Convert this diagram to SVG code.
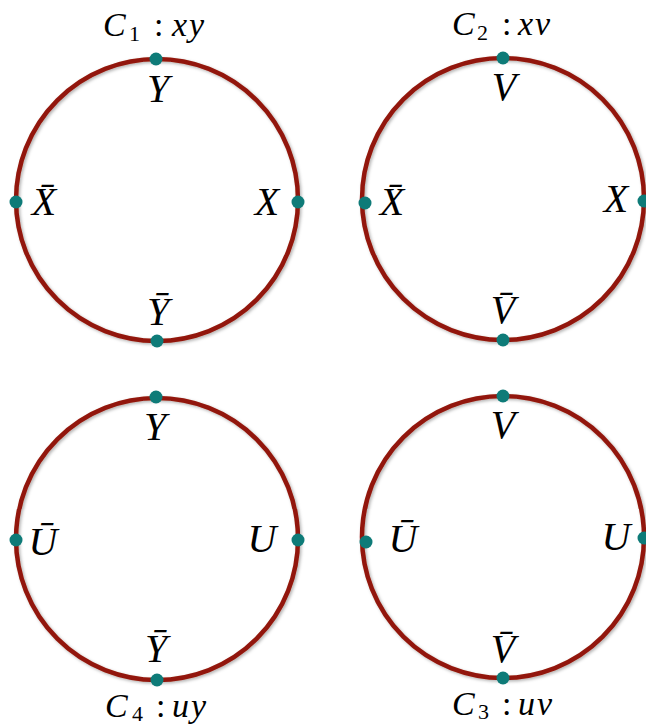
<svg xmlns="http://www.w3.org/2000/svg" width="646" height="725" viewBox="0 0 646 725">
<style>
.ring{fill:none;stroke:#921709;stroke-width:4.5}
.dot{fill:#0e7b78}
text{font-family:"Liberation Serif",serif}
.lbl{font-style:italic;font-size:40px;fill:#000;text-anchor:middle}
.ttl{font-size:34px;fill:#000}
.it{font-style:italic}
.var{font-style:italic;letter-spacing:2px}
.sub{font-size:22px}
</style>
<defs>
<filter id="sh" x="-10%" y="-10%" width="120%" height="120%">
<feDropShadow dx="1.5" dy="1.5" stdDeviation="1.5" flood-color="#000" flood-opacity="0.3"/>
</filter>
</defs>
<rect width="646" height="725" fill="#fff"/>
<g id="c1">
<circle class="ring" cx="157" cy="200" r="141" filter="url(#sh)"/>
<circle class="dot" cx="156" cy="59" r="6.5"/>
<circle class="dot" cx="16" cy="202" r="6.5"/>
<circle class="dot" cx="298" cy="202" r="6.5"/>
<circle class="dot" cx="157" cy="341" r="6.5"/>
<text class="ttl" y="36"><tspan class="it" x="103">C</tspan><tspan class="sub" x="129" dy="5">1</tspan><tspan x="154" dy="-5">:</tspan><tspan class="var" x="172">xy</tspan></text>
<text class="lbl" x="158" y="102">Y</text>
<text class="lbl" x="44" y="215">X̄</text>
<text class="lbl" x="267" y="215">X</text>
<text class="lbl" x="158" y="325">Ȳ</text>
</g>
<g id="c2">
<circle class="ring" cx="503" cy="199" r="141" filter="url(#sh)"/>
<circle class="dot" cx="503" cy="58" r="6.5"/>
<circle class="dot" cx="365" cy="203" r="6.5"/>
<circle class="dot" cx="644" cy="201" r="6.5"/>
<circle class="dot" cx="503" cy="340" r="6.5"/>
<text class="ttl" y="35"><tspan class="it" x="452">C</tspan><tspan class="sub" x="477" dy="5">2</tspan><tspan x="502" dy="-5">:</tspan><tspan class="var" x="518">xv</tspan></text>
<text class="lbl" x="504" y="100">V</text>
<text class="lbl" x="392" y="215">X̄</text>
<text class="lbl" x="616" y="212">X</text>
<text class="lbl" x="503" y="323">V̄</text>
</g>
<g id="c4">
<circle class="ring" cx="157" cy="539" r="141" filter="url(#sh)"/>
<circle class="dot" cx="156" cy="397" r="6.5"/>
<circle class="dot" cx="16" cy="540" r="6.5"/>
<circle class="dot" cx="298" cy="540" r="6.5"/>
<circle class="dot" cx="157" cy="680" r="6.5"/>
<text class="ttl" y="717"><tspan class="it" x="105">C</tspan><tspan class="sub" x="132" dy="4">4</tspan><tspan x="156" dy="-4">:</tspan><tspan class="var" x="172">uy</tspan></text>
<text class="lbl" x="155" y="440">Y</text>
<text class="lbl" x="43" y="555">Ū</text>
<text class="lbl" x="262" y="552">U</text>
<text class="lbl" x="156" y="662">Ȳ</text>
</g>
<g id="c3">
<circle class="ring" cx="503" cy="537" r="141" filter="url(#sh)"/>
<circle class="dot" cx="503" cy="396" r="6.5"/>
<circle class="dot" cx="366" cy="542" r="6.5"/>
<circle class="dot" cx="644" cy="538" r="6.5"/>
<circle class="dot" cx="503" cy="678" r="6.5"/>
<text class="ttl" y="715"><tspan class="it" x="452">C</tspan><tspan class="sub" x="478" dy="4">3</tspan><tspan x="502" dy="-4">:</tspan><tspan class="var" x="518">uv</tspan></text>
<text class="lbl" x="503" y="438">V</text>
<text class="lbl" x="403" y="552">Ū</text>
<text class="lbl" x="616" y="550">U</text>
<text class="lbl" x="503" y="662">V̄</text>
</g>
<g id="connectors"/>
</svg>
